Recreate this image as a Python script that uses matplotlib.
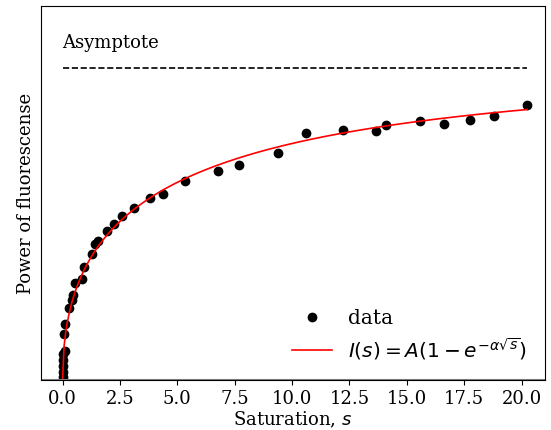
import matplotlib
matplotlib.use("Agg")
import matplotlib.pyplot as plt
import numpy as np

# Datos (saturacion s, potencia normalizada)
s_data = [0.0, 0.0, 0.0, 0.01, 0.03, 0.12, 0.08, 0.10, 0.30, 0.40, 0.47, 0.54,
          0.84, 0.95, 1.27, 1.42, 1.53, 1.93, 2.24, 2.59, 3.10, 3.81, 4.38,
          5.35, 6.79, 7.69, 9.37, 10.60, 12.21, 13.66, 14.08, 15.56, 16.61,
          17.74, 18.80, 20.24]
p_data = [0.009, 0.027, 0.045, 0.064, 0.084, 0.094, 0.147, 0.180, 0.230,
          0.257, 0.273, 0.313, 0.324, 0.362, 0.405, 0.437, 0.445, 0.477,
          0.502, 0.527, 0.551, 0.583, 0.596, 0.638, 0.671, 0.689, 0.728,
          0.792, 0.801, 0.798, 0.818, 0.831, 0.821, 0.835, 0.848, 0.882]

# Parametros del ajuste
A = 1.0
alpha = 0.45

def fit(s):
    return A * (1 - np.exp(-alpha * np.sqrt(s)))

plt.rcParams['font.family'] = 'DejaVu Serif'

fig = plt.figure(figsize=(5.51, 4.30), dpi=100)
ax = fig.add_axes([0.0744, 0.116, 0.9146, 0.870])

s = np.linspace(0, max(s_data), 300)

ax.plot(s_data, p_data, 'o', color='black', markersize=6, label='data')
ax.plot(s, fit(s), color='red', lw=1.2,
        label=r'$I(s) = A(1 - e^{-\alpha\sqrt{s}})$')
ax.plot([0, max(s_data)], [A, A], '--', color='black', lw=1.2)
ax.text(0, 1.08 * A, 'Asymptote', fontsize=13, va='center', ha='left')
ax.axhline(0, color='gray', lw=1.5)

ax.set_xlim(-0.94, 21.02)
ax.set_ylim(0, 1.2 * A)
ax.set_yticks([])
ax.set_xticks(np.arange(0, 20.1, 2.5))
ax.tick_params(axis='x', labelsize=13)
ax.set_xlabel(r'Saturation, $s$', fontsize=13, labelpad=1)
ax.set_ylabel('Power of fluorescense', fontsize=13)
ax.legend(loc='lower right', frameon=False, fontsize=14.5, labelspacing=0.4)

fig.savefig('out.png', dpi=100)
